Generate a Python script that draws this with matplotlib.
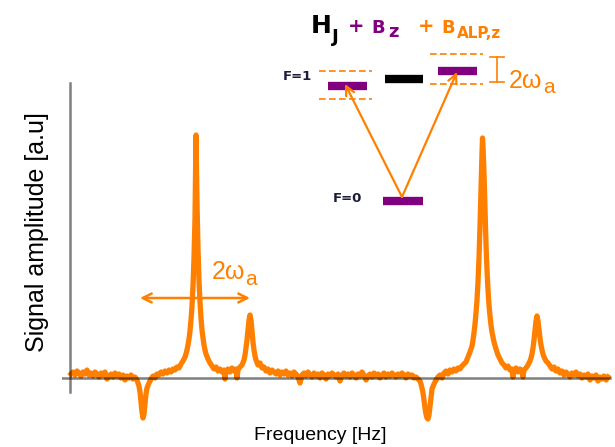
import matplotlib
matplotlib.use("Agg")
import matplotlib.pyplot as plt

# ---------------- data ----------------
# frequency (arbitrary units) and signal amplitude (a.u., baseline = 0)
freq = [1, 3, 5, 7, 9, 11, 13, 15, 17, 19, 21, 23, 25, 27, 29, 31, 33, 35, 37, 39,
        41, 43, 45, 47, 49, 51, 53, 55, 57, 59, 61, 63, 65,
        67, 69, 70, 71, 72, 73, 74, 75, 76, 77, 79, 81, 83, 85, 87,
        89, 91, 93, 95, 97, 99, 101, 103, 105, 107, 109, 111, 113, 115, 116, 117, 118, 119,
        120, 121, 122, 123, 124, 125, 125.5, 126, 126.5, 127, 128, 129, 130, 131, 132, 133,
        134, 135, 136, 138, 140, 142, 144, 146, 148, 150, 152, 154, 155, 156, 158, 160, 162,
        164, 166, 167, 168, 170, 172, 174, 175, 176, 177, 178, 179, 180, 181, 182, 183, 184,
        185, 186, 188, 190, 192, 194, 196, 198, 200, 202, 204, 206, 208, 210, 212, 214, 216,
        218, 220, 222, 224, 226, 228, 230, 232, 234, 236, 238, 240, 242, 244, 246, 248, 250,
        252, 254, 256, 258, 260, 262, 264, 266, 268, 270, 272, 274, 276, 278, 280, 282, 284,
        286, 288, 290, 292, 294, 296, 298, 300, 302, 304, 306, 308, 310, 312, 314, 316, 318,
        320, 322, 324, 326, 328, 330, 332, 334, 336, 338, 340, 342, 344, 346, 348, 350,
        351, 352, 353, 354, 355, 356, 357, 358, 359, 360, 361, 362, 364, 366, 368, 370, 372,
        374, 376, 378, 380, 382, 384, 386, 388, 390, 392, 394, 396, 398, 400, 402, 403, 404,
        405, 406, 407, 408, 409, 410, 411, 412, 412.5, 413, 414, 415, 416, 417, 418, 419, 420,
        421, 422, 424, 426, 428, 430, 432, 434, 436, 438, 440, 442, 443, 444, 446, 448, 450,
        452, 453, 454, 456, 458, 460, 461, 462, 463, 464, 465, 466, 467, 468, 469, 470, 471,
        472, 473, 474, 476, 478, 480, 482, 484, 486, 488, 490, 492, 494, 496, 498, 500, 502,
        504, 506, 508, 510, 512, 514, 516, 518, 520, 522, 524, 526, 528, 530, 532, 534, 536,
        538]
amp = [4, 6, 3, 7, 5, 2, 6, 4, 8, 3, 5, 2, 6, 4, 1, 5, 3, 6, -1, 2,
       4, 1, 5, 2, 4, 0, 3, -2, 2, 0, 3, -1, 1,
       -2, -8, -14, -24, -34, -40, -36, -26, -16, -10, -5, -1, 2, 0, 4,
       3, 6, 4, 7, 5, 8, 6, 9, 8, 11, 10, 14, 17, 21, 24, 28, 33, 39,
       47, 58, 72, 92, 120, 160, 200, 243, 210, 175, 130, 97, 76, 60, 48, 40,
       33, 28, 24, 19, 15, 12, 9, 11, 7, 9, 6, 8, -1, 7, 9, 6, 10,
       7, 9, 0, 8, 11, 13, 18, 23, 30, 38, 48, 58, 63, 58, 47, 36, 28,
       22, 18, 13, 15, 10, 11, 7, 9, 5, 8, 6, 4, 7, 3, 6, 4, 7,
       3, 5, 2, 6, 4, 1, -5, 3, 5, 2, 6, 3, 1, 5, 2, 4, 0,
       5, 3, -1, 4, 2, 5, 3, 1, 4, -3, 3, 5, 2, 4, 1, 5, 3,
       0, 4, 2, 6, 3, -2, 2, 4, 1, 5, 2, 4, 0, 3, 5, 1, 4,
       2, 5, 3, 1, 4, 2, 5, 3, 0, 4, 2, 3, 0, 1, -1, -3,
       -6, -10, -15, -22, -30, -36, -40, -41, -37, -28, -18, -11, -6, -2, 1, 3, 0,
       5, 7, 4, 8, 6, 9, 7, 10, 9, 12, 14, 16, 21, 26, 32, 38, 45,
       54, 65, 78, 96, 120, 152, 190, 225, 240, 232, 205, 168, 134, 108, 88, 73, 62,
       53, 46, 36, 29, 23, 19, 15, 13, 10, 12, 8, 9, 1, 7, 10, 6, 9,
       7, 1, 8, 10, 13, 17, 20, 24, 30, 38, 48, 57, 62, 57, 48, 40, 33,
       28, 24, 21, 17, 15, 12, 9, 11, 7, 9, 5, 7, 3, 6, 4, 1, 5,
       3, 6, 2, 4, 0, 3, 1, 4, -2, 2, 0, 3, -3, 1, -1, 2, -2,
       1]

x_label = "Frequency [Hz]"
y_label = "Signal amplitude [a.u]"

ORANGE = "#ff8000"
PURPLE = "#800080"
NAVY = "#1c1c3c"

# ---------------- figure ----------------
W, H = 615, 447
fig = plt.figure(figsize=(W / 100, H / 100), dpi=100)

# main spectrum axes: pixel box x 62..612, y 80..425
ax = fig.add_axes([62 / W, (H - 425) / H, 550 / W, 345 / H])
ax.set_xlim(-8, 542)
ax.set_ylim(-47, 298)
for s in ax.spines.values():
    s.set_visible(False)
ax.set_xticks([])
ax.set_yticks([])
ax.patch.set_alpha(0)

ax.plot(freq, amp, color=ORANGE, lw=3.8, solid_joinstyle="round", zorder=2)
ax.plot([-8, 540], [0, 0], color="black", alpha=0.5, lw=1.8, zorder=3)
ax.plot([0, 0], [-14, 295], color="black", alpha=0.5, lw=1.8, zorder=3)

# axis labels
fig.text(37 / W, 1 - 232 / H, y_label, rotation=90, ha="center", va="center",
         fontsize=18, family="Liberation Sans", color="black")
fig.text(320 / W, 1 - 436 / H, x_label, ha="center", va="center",
         fontsize=14, family="Liberation Sans", color="black")

# overlay axes in pixel coordinates for the level diagram
ov = fig.add_axes([0, 0, 1, 1])
ov.set_xlim(0, W)
ov.set_ylim(H, 0)
ov.axis("off")
ov.patch.set_alpha(0)

# title formula H_J + B_z + B_ALP,z
bold = dict(fontweight="bold", family="DejaVu Sans", va="baseline", ha="left")
ov.text(311, 33, "H", fontsize=18, color="black", **bold)
ov.text(332, 42, "J", fontsize=13, color="black", **bold)
ov.text(348, 32, "+", fontsize=14, color=PURPLE, **bold)
ov.text(371, 33, "B", fontsize=13, color=PURPLE, **bold)
ov.text(388, 37, "z", fontsize=13, color=PURPLE, **bold)
ov.text(418, 32, "+", fontsize=14, color=ORANGE, **bold)
ov.text(441, 33, "B", fontsize=13, color=ORANGE, **bold)
ov.text(457, 38, "ALP,z", fontsize=11, color=ORANGE, **bold)

# levels
lab = dict(fontweight="bold", family="DejaVu Sans", fontsize=9.5, color=NAVY,
           ha="left", va="center")
ov.text(283, 77, "F=1", **lab)
ov.text(333, 199, "F=0", **lab)

dash = dict(color=ORANGE, lw=1.2, ls=(0, (4, 2)))
ov.plot([319, 372], [71, 71], **dash)
ov.plot([319, 372], [99, 99], **dash)
ov.plot([430, 483], [54, 54], **dash)
ov.plot([430, 483], [84, 84], **dash)

bar = dict(lw=6, solid_capstyle="butt")
ov.plot([328, 367], [86, 86], color=PURPLE, **bar)
ov.plot([385, 423], [78.5, 78.5], color="black", **bar)
ov.plot([438, 477], [70.5, 70.5], color=PURPLE, **bar)
ov.plot([383, 423], [201, 201], color=PURPLE, **bar)

# transition arrows
arr = dict(arrowstyle="->", color=ORANGE, lw=1.6, mutation_scale=16,
           shrinkA=0, shrinkB=0)
ov.annotate("", xy=(345, 84), xytext=(402, 197), arrowprops=arr)
ov.annotate("", xy=(457, 72), xytext=(402, 197), arrowprops=arr)

# splitting bracket
ov.plot([497, 497], [57, 82], color=ORANGE, lw=1.2)
ov.plot([490, 504], [57, 57], color=ORANGE, lw=1.2)
ov.plot([490, 504], [82, 82], color=ORANGE, lw=1.2)
ov.text(509, 88, "2ω", fontsize=18, color=ORANGE, family="Liberation Sans",
        ha="left", va="baseline")
ov.text(543, 93, "a", fontsize=15, color=ORANGE, family="Liberation Sans",
        ha="left", va="baseline")

# splitting double arrow on the spectrum
darr = dict(arrowstyle="<->", color=ORANGE, lw=1.8, mutation_scale=16,
            shrinkA=0, shrinkB=0)
ov.annotate("", xy=(250, 298), xytext=(140, 298), arrowprops=darr)
ov.text(212, 279, "2ω", fontsize=18, color=ORANGE, family="Liberation Sans",
        ha="left", va="baseline")
ov.text(245, 285, "a", fontsize=15, color=ORANGE, family="Liberation Sans",
        ha="left", va="baseline")

fig.savefig("out.png", dpi=100)
